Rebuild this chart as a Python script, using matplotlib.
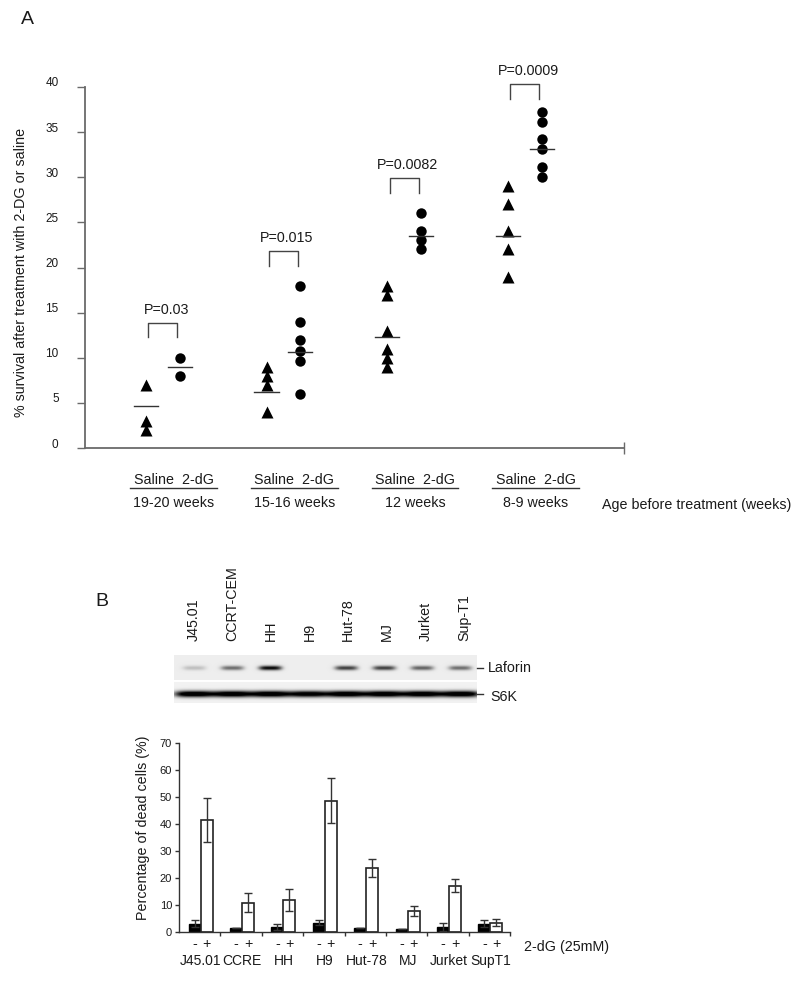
import numpy as np
import matplotlib
matplotlib.use("Agg")
import matplotlib.pyplot as plt
from matplotlib.lines import Line2D
from matplotlib.transforms import ScaledTranslation, blended_transform_factory

plt.rcParams['font.family'] = ['Liberation Sans', 'DejaVu Sans']

# Panel A data
ages = ['19-20 weeks', '15-16 weeks', '12 weeks', '8-9 weeks']
saline_pts = [[7, 3, 2], [9, 8, 7, 4], [18, 17, 13, 11, 10, 9], [29, 27, 24, 22, 19]]
dg_pts = [[10, 8], [18, 14, 12, 10.7, 9.6, 6], [26, 24, 23, 22],
          [37.2, 36.1, 34.2, 33.1, 31.1, 30]]
saline_mean = [4.6, 6.2, 12.3, 23.5]
dg_mean = [9.0, 10.6, 23.5, 33.1]
p_labels = ['P=0.03', 'P=0.015', 'P=0.0082', 'P=0.0009']
bracket_y = [13.9, 21.8, 29.9, 40.3]

# Panel B western blot (relative band strength)
lanes = ['J45.01', 'CCRT-CEM', 'HH', 'H9', 'Hut-78', 'MJ', 'Jurket', 'Sup-T1']
laforin = [0.2, 0.55, 1.0, 0.0, 0.75, 0.75, 0.6, 0.55]
s6k = [1.0, 1.0, 1.0, 0.95, 1.0, 1.0, 1.0, 1.0]

# Panel B bars
cells = ['J45.01', 'CCRE', 'HH', 'H9', 'Hut-78', 'MJ', 'Jurket', 'SupT1']
dead_ctrl = [3.1, 1.4, 2.0, 3.5, 1.4, 1.0, 2.0, 3.1]
dead_ctrl_err = [1.2, 0, 1.1, 1.0, 0, 0, 1.5, 1.4]
dead_2dg = [41.6, 10.9, 12.0, 48.7, 23.7, 7.9, 17.2, 3.5]
dead_2dg_err = [8.2, 3.6, 4.1, 8.5, 3.3, 1.9, 2.5, 1.4]

W, H = 800, 982
fig = plt.figure(figsize=(W / 100, H / 100), dpi=100)


def box(x0, y0, x1, y1):
    # pixel box -> figure rect
    return [x0 / W, 1 - y1 / H, (x1 - x0) / W, (y1 - y0) / H]


def fy(y):
    return 1 - y / H


gray = '#6a6a6a'
ink = '#1a1a1a'
fs = 10.3

# ---------------- Panel A ----------------
ax = fig.add_axes(box(85, 87, 624, 448))
ax.set_xlim(0.356, 4.822)
ax.set_ylim(0, 40)
for s in ['top', 'right']:
    ax.spines[s].set_visible(False)
for s in ['left', 'bottom']:
    ax.spines[s].set_color(gray)
    ax.spines[s].set_linewidth(1.3)
ax.set_yticks(range(0, 41, 5))
ax.tick_params(axis='y', direction='out', length=6, width=1, color=gray,
               pad=13, labelsize=8.5, labelcolor=ink)
ax.set_xticks([4.822])
ax.set_xticklabels([])
ax.tick_params(axis='x', direction='inout', length=8, width=1, color=gray)
shift = ScaledTranslation(0, 0.05, fig.dpi_scale_trans)
for lab in ax.get_yticklabels():
    lab.set_transform(lab.get_transform() + shift)

trans_a = blended_transform_factory(ax.transData, fig.transFigure)
for i in range(4):
    g = i + 1
    ax.plot([g - 0.14] * len(saline_pts[i]), saline_pts[i], '^', color='black',
            ms=9, mec='none', clip_on=False)
    ax.plot([g + 0.14] * len(dg_pts[i]), dg_pts[i], 'o', color='black',
            ms=7.5, mec='none', clip_on=False)
    ax.plot([g - 0.24, g - 0.04], [saline_mean[i]] * 2, color='#333333', lw=1)
    ax.plot([g + 0.04, g + 0.24], [dg_mean[i]] * 2, color='#333333', lw=1)
    b = bracket_y[i]
    ax.plot([g - 0.12, g - 0.12, g + 0.12, g + 0.12], [b - 1.6, b, b, b - 1.6],
            color='#444444', lw=1, clip_on=False)
    ax.text(g + 0.03, b + 1.0, p_labels[i], ha='center', va='baseline',
            fontsize=fs, color=ink)

    # group labels under the axis
    ax.text(g + 0.09, fy(480), 'Saline  2-dG', transform=trans_a, ha='center',
            va='center', fontsize=fs, color=ink)
    ax.plot([g + 0.09 - 0.36, g + 0.09 + 0.36], [fy(488)] * 2, transform=trans_a,
            color='#333333', lw=1, clip_on=False)
    ax.text(g + 0.09, fy(503), ages[i], transform=trans_a, ha='center',
            va='center', fontsize=fs, color=ink)

fig.text(602 / W, fy(505), 'Age before treatment (weeks)', ha='left',
         va='center', fontsize=fs, color=ink)
fig.text(21 / W, fy(272), '% survival after treatment with 2-DG or saline',
         rotation=90, ha='center', va='center', fontsize=fs, color=ink)
fig.text(27 / W, fy(20), 'A', ha='center', va='center', fontsize=14, color=ink)
fig.text(102 / W, fy(602), 'B', ha='center', va='center', fontsize=14, color=ink)

# ---------------- Panel B: blot ----------------
bx = fig.add_axes(box(174, 655, 477, 703))
x0, x1 = -0.525, 7.43
xs = np.linspace(x0, x1, 303)
yy = np.arange(48) + 0.5
laf_dark = np.zeros((48, 303))
s6k_dark = np.zeros((48, 303))
for i in range(len(lanes)):
    laf_dark += laforin[i] * np.exp(-((xs - i) / 0.3) ** 4)[None, :] * \
        np.exp(-((yy - 13) / 2.3) ** 2)[:, None]
    s6k_dark += s6k[i] * np.exp(-((xs - i) / 0.52) ** 4)[None, :] * \
        np.exp(-((yy - 39) / 3.2) ** 2)[:, None]
img = np.ones((48, 303))
img[:25] = 0.93 - 0.9 * laf_dark[:25]
img[27:] = 0.95 - 1.15 * s6k_dark[27:]
img = np.clip(img, 0, 1)
bx.imshow(img, cmap='gray', vmin=0, vmax=1, extent=(x0, x1, 48, 0),
          aspect='auto', interpolation='bilinear')
bx.axis('off')

trans_b = blended_transform_factory(bx.transData, fig.transFigure)
for i, name in enumerate(lanes):
    bx.text(i * 1.013, fy(641), name, transform=trans_b, rotation=90,
            ha='center', va='bottom', fontsize=fs, color=ink)

fig.add_artist(Line2D([477 / W, 483 / W], [fy(668)] * 2, color='#333333', lw=1))
fig.add_artist(Line2D([477 / W, 483 / W], [fy(694)] * 2, color='#333333', lw=1))
fig.text(488 / W, fy(668), 'Laforin', ha='left', va='center', fontsize=fs, color=ink)
fig.text(490 / W, fy(697), 'S6K', ha='left', va='center', fontsize=fs, color=ink)

# ---------------- Panel B: bars ----------------
cx = fig.add_axes(box(179, 743, 510, 932))
x = np.arange(len(cells))
ekw = dict(ecolor='#333333', elinewidth=1, capthick=1)
cx.bar(x - 0.12, dead_ctrl, 0.29, color='black', edgecolor='black', lw=1,
       yerr=dead_ctrl_err, capsize=3, error_kw=ekw)
cx.bar(x + 0.17, dead_2dg, 0.29, color='white', edgecolor='#222222', lw=1.2,
       yerr=dead_2dg_err, capsize=3, error_kw=ekw)
cx.set_xlim(-0.5, 7.5)
cx.set_ylim(0, 70)
for s in ['top', 'right']:
    cx.spines[s].set_visible(False)
for s in ['left', 'bottom']:
    cx.spines[s].set_color('#333333')
    cx.spines[s].set_linewidth(1)
cx.set_yticks(range(0, 71, 10))
cx.tick_params(axis='y', direction='out', length=3, width=1, color='#333333',
               pad=2, labelsize=8, labelcolor=ink)
cx.set_xticks(np.arange(0.5, 8, 1))
cx.set_xticklabels([])
cx.tick_params(axis='x', direction='out', length=3, width=1, color='#333333')

trans_c = blended_transform_factory(cx.transData, fig.transFigure)
for i, name in enumerate(cells):
    cx.text(i - 0.12, fy(944), '-', transform=trans_c, ha='center', va='center',
            fontsize=fs, color=ink)
    cx.text(i + 0.17, fy(944), '+', transform=trans_c, ha='center', va='center',
            fontsize=fs, color=ink)
    cx.text(i + 0.03, fy(961), name, transform=trans_c, ha='center', va='center',
            fontsize=10, color=ink)

fig.text(524 / W, fy(947), '2-dG (25mM)', ha='left', va='center', fontsize=fs,
         color=ink)
fig.text(143 / W, fy(828), 'Percentage of dead cells (%)', rotation=90,
         ha='center', va='center', fontsize=fs, color=ink)

fig.savefig('out.png', dpi=100, facecolor='white')
